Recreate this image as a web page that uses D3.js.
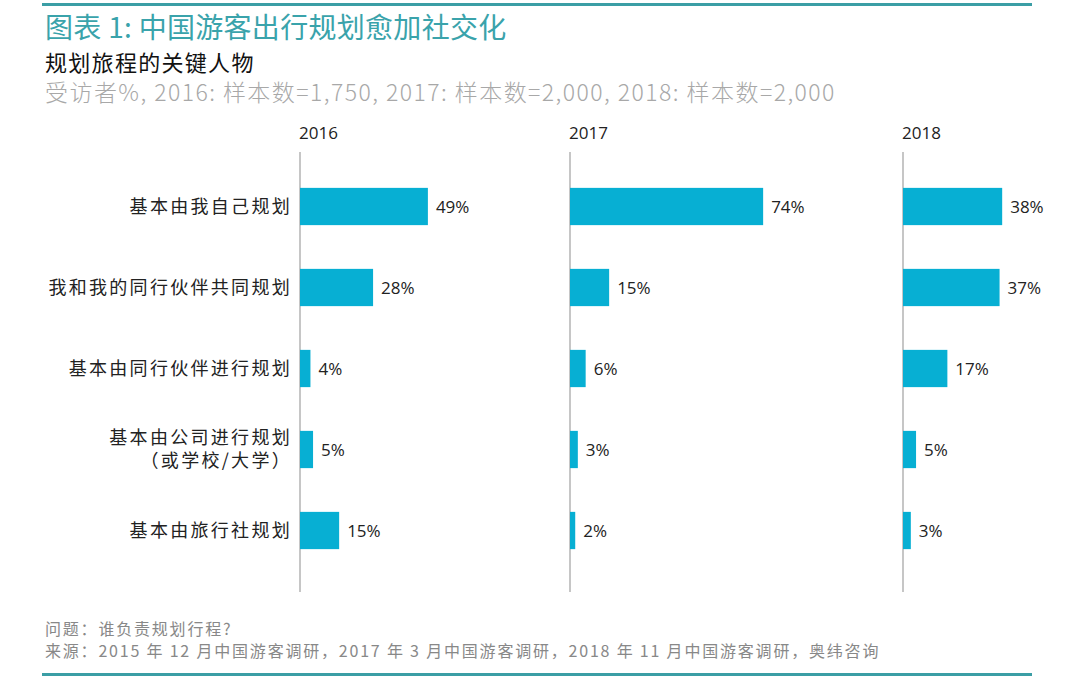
<!DOCTYPE html>
<html><head><meta charset="utf-8">
<script src="https://cdn.jsdelivr.net/npm/d3@7"></script>
<style>
body{margin:0;background:#fff;}
svg{display:block;}
</style></head>
<body>
<svg id="c" width="1080" height="679"></svg>
<script>
const categories = [
  ["基本由我自己规划"],
  ["我和我的同行伙伴共同规划"],
  ["基本由同行伙伴进行规划"],
  ["基本由公司进行规划", "（或学校/大学）"],
  ["基本由旅行社规划"]
];
const years = ["2016", "2017", "2018"];
const values2016 = [49, 28, 4, 5, 15];
const values2017 = [74, 15, 6, 3, 2];
const values2018 = [38, 37, 17, 5, 3];
const seriesValues = [values2016, values2017, values2018];

const title = "图表 1: 中国游客出行规划愈加社交化";
const subtitle = "规划旅程的关键人物";
const note = "受访者%, 2016: 样本数=1,750, 2017: 样本数=2,000, 2018: 样本数=2,000";
const footer1 = "问题：谁负责规划行程?";
const footer2 = "来源：2015 年 12 月中国游客调研，2017 年 3 月中国游客调研，2018 年 11 月中国游客调研，奥纬咨询";

const svg = d3.select("#c");
const cjk = "'Noto Sans CJK SC','Noto Sans',sans-serif";
const latin = "'Open Sans','Noto Sans CJK SC',sans-serif";
const teal = "#3b9ea5";
const barColor = "#07afd3";

// Rules
svg.append("rect").attr("x", 42).attr("y", 3).attr("width", 990).attr("height", 3).attr("fill", teal);
svg.append("rect").attr("x", 42).attr("y", 673).attr("width", 990).attr("height", 3).attr("fill", teal);

svg.append("text").attr("x", 45).attr("y", 38).attr("font-family", cjk).attr("font-size", 28)
  .attr("letter-spacing", 0.3).attr("fill", "#3aa3ab").text(title);
svg.append("text").attr("x", 45).attr("y", 71).attr("font-family", cjk).attr("font-size", 22)
  .attr("letter-spacing", 1.3).attr("fill", "#111").text(subtitle);
svg.append("text").attr("x", 45).attr("y", 101).attr("font-family", cjk).attr("font-size", 23)
  .attr("font-weight", 300).attr("letter-spacing", 1.45).attr("fill", "#a8a8a8").text(note);

const y = d3.scaleBand().domain(d3.range(categories.length)).range([166, 571])
  .paddingInner(0.54).paddingOuter(0.27);
const panelX = d3.scaleOrdinal().domain(years).range([300, 570, 903]);
const x = d3.scaleLinear().domain([0, 100]).range([0, 261]);

// Category labels
const cat = svg.append("g");
categories.forEach((lines, i) => {
  const cy = y(i) + y.bandwidth() / 2;
  lines.forEach((l, j) => {
    const off = (j - (lines.length - 1) / 2) * 23;
    cat.append("text").attr("text-anchor", "end").attr("font-family", cjk)
      .attr("font-size", 18).attr("letter-spacing", 2.3).attr("fill", "#222")
      .attr("x", 292).attr("y", cy + off).attr("dy", "0.36em").text(l);
  });
});

years.forEach((yr, k) => {
  const g = svg.append("g").attr("transform", `translate(${panelX(yr)},0)`);
  g.append("text").attr("x", -1).attr("y", 139).attr("font-family", latin).attr("font-size", 17)
    .attr("fill", "#222").text(yr);
  g.append("line").attr("x1", 0).attr("x2", 0).attr("y1", 152).attr("y2", 592)
    .attr("stroke", "#a0a0a0").attr("stroke-width", 1.2);
  const vals = seriesValues[k];
  g.selectAll("rect.bar").data(vals).join("rect").attr("class", "bar")
    .attr("x", 0).attr("y", (d, i) => y(i)).attr("width", d => x(d)).attr("height", y.bandwidth())
    .attr("fill", barColor);
  g.selectAll("text.val").data(vals).join("text").attr("class", "val")
    .attr("x", d => x(d) + 8).attr("y", (d, i) => y(i) + y.bandwidth() / 2).attr("dy", "0.36em")
    .attr("font-family", latin).attr("font-size", 17).attr("fill", "#222").text(d => d + "%");
});

svg.append("text").attr("x", 45).attr("y", 635).attr("font-family", cjk).attr("font-size", 16)
  .attr("letter-spacing", 1.8).attr("fill", "#888").text(footer1);
svg.append("text").attr("x", 45).attr("y", 657).attr("font-family", cjk).attr("font-size", 16)
  .attr("letter-spacing", 1.8).attr("fill", "#888").text(footer2);
</script>
</body></html>
